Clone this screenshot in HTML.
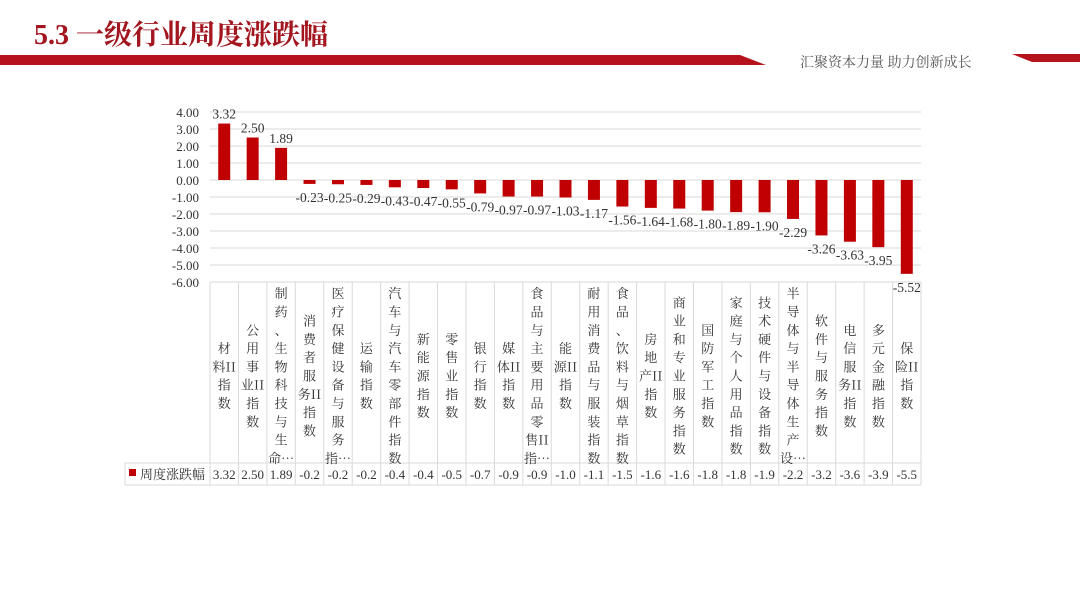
<!DOCTYPE html>
<html><head><meta charset="utf-8">
<style>
body{margin:0;background:#fff;width:1080px;height:608px;overflow:hidden;font-family:"Liberation Serif","Noto Serif CJK SC",serif;}
</style></head>
<body>
<svg width="1080" height="608" viewBox="0 0 1080 608" xmlns="http://www.w3.org/2000/svg">
<text x="34" y="44" font-size="28" font-weight="bold" fill="#a3161f" font-family="Liberation Serif, Noto Serif CJK SC, serif">5.3 一级行业周度涨跌幅</text>
<polygon points="0,55 740,55 766,65 0,65" fill="#b5121b"/>
<polygon points="1012,54 1080,54 1080,62 1032,62" fill="#b5121b"/>
<text x="800" y="67" font-size="14" fill="#555" font-family="Noto Serif CJK SC, serif">汇聚资本力量 助力创新成长</text>
<g id="chart"></g>
</svg>
<script>
const categories=[["材","料II","指","数"],["公","用","事","业II","指","数"],["制","药","、","生","物","科","技","与","生","命…"],["消","费","者","服","务II","指","数"],["医","疗","保","健","设","备","与","服","务","指…"],["运","输","指","数"],["汽","车","与","汽","车","零","部","件","指","数"],["新","能","源","指","数"],["零","售","业","指","数"],["银","行","指","数"],["媒","体II","指","数"],["食","品","与","主","要","用","品","零","售II","指…"],["能","源II","指","数"],["耐","用","消","费","品","与","服","装","指","数"],["食","品","、","饮","料","与","烟","草","指","数"],["房","地","产II","指","数"],["商","业","和","专","业","服","务","指","数"],["国","防","军","工","指","数"],["家","庭","与","个","人","用","品","指","数"],["技","术","硬","件","与","设","备","指","数"],["半","导","体","与","半","导","体","生","产","设…"],["软","件","与","服","务","指","数"],["电","信","服","务II","指","数"],["多","元","金","融","指","数"],["保","险II","指","数"]];
const values=[3.32,2.50,1.89,-0.23,-0.25,-0.29,-0.43,-0.47,-0.55,-0.79,-0.97,-0.97,-1.03,-1.17,-1.56,-1.64,-1.68,-1.80,-1.89,-1.90,-2.29,-3.26,-3.63,-3.95,-5.52];
const tableValues=["3.32","2.50","1.89","-0.2","-0.2","-0.2","-0.4","-0.4","-0.5","-0.7","-0.9","-0.9","-1.0","-1.1","-1.5","-1.6","-1.6","-1.8","-1.8","-1.9","-2.2","-3.2","-3.6","-3.9","-5.5"];
const yTicks=[4,3,2,1,0,-1,-2,-3,-4,-5,-6];
const yTickLabels=["4.00","3.00","2.00","1.00","0.00","-1.00","-2.00","-3.00","-4.00","-5.00","-6.00"];
const NS="http://www.w3.org/2000/svg";
const g=document.getElementById('chart');
const x0=210,x1=921,n=categories.length,bw=(x1-x0)/n;
const yS=v=>180-v*17;
const xC=i=>x0+bw*(i+0.5);
function mk(t,a,p){const e=document.createElementNS(NS,t);for(const k in a)e.setAttribute(k,a[k]);(p||g).appendChild(e);return e;}
yTicks.forEach((t,i)=>{
 const l=mk('line',{x1:x0,x2:x1,y1:yS(t),y2:yS(t),stroke:'#d9d9d9','stroke-width':1});
 
 
 const tx=mk('text',{x:199,y:yS(t)+5,'text-anchor':'end','font-size':13,fill:'#333'});
 tx.textContent=yTickLabels[i];
 
 
});
const tTop=yS(-6),tMid=463,tBot=485;
[[125,tMid,x1,tMid],[125,tBot,x1,tBot],[125,tMid,125,tBot]].forEach(a=>{
 const l=mk('line',{x1:a[0],y1:a[1],x2:a[2],y2:a[3],stroke:'#d9d9d9'});
 
 
});
for(let i=0;i<=n;i++){
 const l=mk('line',{x1:x0+bw*i,x2:x0+bw*i,y1:tTop,y2:tBot,stroke:'#d9d9d9'});
 
 
}
values.forEach((v,i)=>{
 const cx=xC(i),y=yS(Math.max(v,0)),h=Math.abs(yS(v)-yS(0));
 const r=mk('rect',{x:cx-6,y:y,width:12,height:h,fill:'#c00000'});
 
 
 const lb=mk('text',{x:cx,y:v>=0?yS(v)-5:yS(v)+18,'text-anchor':'middle','font-size':13.5,fill:'#333'});
 lb.textContent=v.toFixed(2);
 
 
 const lines=categories[i],lh=18.3,start=(tTop+tMid)/2-(lines.length-1)*lh/2+8;
 const ct=mk('text',{'font-size':13,fill:'#333','text-anchor':'middle','font-family':'Noto Serif CJK SC, serif'});
 
 
 lines.forEach((s,j)=>{const ts=mk('tspan',{x:cx,y:start+j*lh},ct);ts.textContent=s;});
 const tv=mk('text',{x:cx,y:479,'text-anchor':'middle','font-size':13,fill:'#333'});
 tv.textContent=tableValues[i];
 
 
});
const key=mk('rect',{x:129,y:469,width:7,height:7,fill:'#c00000'});


const lt=mk('text',{x:140,y:479,'font-size':13,fill:'#333','font-family':'Noto Serif CJK SC, serif'});
lt.textContent='周度涨跌幅';


</script>
</body></html>
